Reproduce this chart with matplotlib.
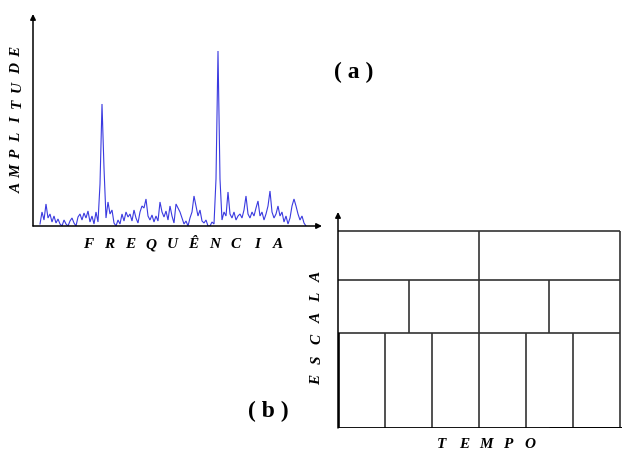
import numpy as np
import matplotlib
matplotlib.use("Agg")
import matplotlib.pyplot as plt

W, H = 623, 452

# ---- panel (a): amplitude spectrum -------------------------------------
freq = np.arange(40, 307, 2)
amplitude = [
    2, 14, 6, 22, 8, 12, 4, 10, 3, 7,
    2, 0, 6, 2, 0, 5, 8, 3, 0, 9,
    12, 6, 13, 8, 15, 4, 10, 2, 14, 4,
    42, 122, 58, 8, 24, 12, 16, 3, 0, 6,
    2, 12, 5, 14, 9, 12, 5, 16, 8, 3,
    14, 20, 18, 27, 10, 6, 11, 4, 10, 5,
    24, 14, 9, 15, 6, 20, 10, 3, 22, 18,
    14, 8, 2, 5, 0, 8, 14, 30, 20, 10,
    16, 5, 3, 6, 0, 0, 4, 2, 47, 175,
    47, 6, 14, 10, 34, 12, 8, 14, 6, 10,
    12, 8, 16, 30, 12, 8, 14, 10, 18, 25,
    10, 14, 6, 12, 20, 35, 14, 8, 12, 20,
    10, 14, 4, 10, 2, 8, 20, 27, 20, 12,
    6, 10, 3, 0,
]

# ---- panel (b): time-scale tiling --------------------------------------
row_edges = [0.0, 1.9, 2.96, 3.94]   # scale boundaries, bottom to top
cells_per_row = [6, 4, 2]            # time cells in each scale row
time_span = 6.0

label_a = ["A", "M", "P", "L", "I", "T", "U", "D", "E"]
label_freq = ["F", "R", "E", "Q", "U", "Ê", "N", "C", "I", "A"]
label_scale = ["E", "S", "C", "A", "L", "A"]
label_time = ["T", "E", "M", "P", "O"]

SERIF = ["Liberation Serif", "DejaVu Serif"]


def fx(px):
    return px / W


def fy(py):
    return 1 - py / H


fig = plt.figure(figsize=(W / 100, H / 100), dpi=100)
fig.patch.set_facecolor("white")

# panel (a) axes: spans the axis lines of the spectrum
x0a, x1a, ytop_a, ybot_a = 33, 322, 15, 227
ax_a = fig.add_axes([fx(x0a), fy(ybot_a), fx(x1a - x0a), (ybot_a - ytop_a) / H])
ax_a.set_xlim(x0a, x1a)
ax_a.set_ylim(0, ybot_a - ytop_a)
ax_a.plot(freq, amplitude, color="#3a3ae0", lw=0.8, solid_joinstyle="miter")
ax_a.axis("off")
arrow = dict(arrowstyle="-|>", lw=1.1, color="black", mutation_scale=8,
             shrinkA=0, shrinkB=0)
ax_a.annotate("", xy=(1, 0), xytext=(0, 0), xycoords="axes fraction",
              textcoords="axes fraction", arrowprops=arrow)
ax_a.annotate("", xy=(0, 1), xytext=(0, 0), xycoords="axes fraction",
              textcoords="axes fraction", arrowprops=arrow)

# panel (b) axes
x0b, x1b, ytop_b, ybot_b = 338, 622, 213, 429
px_per_t = (620 - 338) / time_span
px_per_s = (ybot_b - 334) / row_edges[1]
ax_b = fig.add_axes([fx(x0b), fy(ybot_b), fx(x1b - x0b), (ybot_b - ytop_b) / H])
ax_b.set_xlim(0, (x1b - x0b) / px_per_t)
ax_b.set_ylim(0, (ybot_b - ytop_b) / px_per_s)
ax_b.axis("off")

grid_color = "#333333"
for r, n in enumerate(cells_per_row):
    lo, hi = row_edges[r], row_edges[r + 1]
    ax_b.plot([0, time_span], [hi, hi], color=grid_color, lw=1.2,
              solid_capstyle="butt")
    for k in range(1, n + 1):
        t = time_span * k / n
        ax_b.plot([t, t], [lo, hi], color=grid_color, lw=1.2,
                  solid_capstyle="butt")

# axes lines of panel (b)
ax_b.plot([0, 1], [0, 0], transform=ax_b.transAxes, color="black", lw=1.3,
          solid_capstyle="butt")
ax_b.plot([4.5, ax_b.get_xlim()[1]], [0, 0], color="black", lw=2.0,
          solid_capstyle="butt")
ax_b.plot([0, 0], [0, row_edges[1]], color="black", lw=2.6,
          solid_capstyle="butt")
ax_b.annotate("", xy=(0, 1), xytext=(0, 0), xycoords="axes fraction",
              textcoords="axes fraction", arrowprops=arrow)


def spaced(letters, start, end, rotation=0, size=11):
    """Lay out letters evenly between two pixel positions."""
    n = len(letters)
    for i, ch in enumerate(letters):
        f = i / (n - 1)
        x = start[0] + f * (end[0] - start[0])
        y = start[1] + f * (end[1] - start[1])
        fig.text(fx(x), fy(y), ch, ha="center", va="center",
                 rotation=rotation, family=SERIF, weight="bold",
                 style="italic", size=size)


spaced(label_a, (17, 188), (17, 52), rotation=90)
spaced(label_freq, (88, 245), (278, 245))
spaced(label_scale, (317, 380), (317, 277), rotation=90)
spaced(label_time, (442, 445), (530, 445))

fig.text(fx(354), fy(72), "( a )", ha="center", va="center", family=SERIF,
         weight="bold", size=17)
fig.text(fx(268), fy(411), "( b )", ha="center", va="center", family=SERIF,
         weight="bold", size=17)

fig.savefig("out.png", dpi=100, facecolor="white")
